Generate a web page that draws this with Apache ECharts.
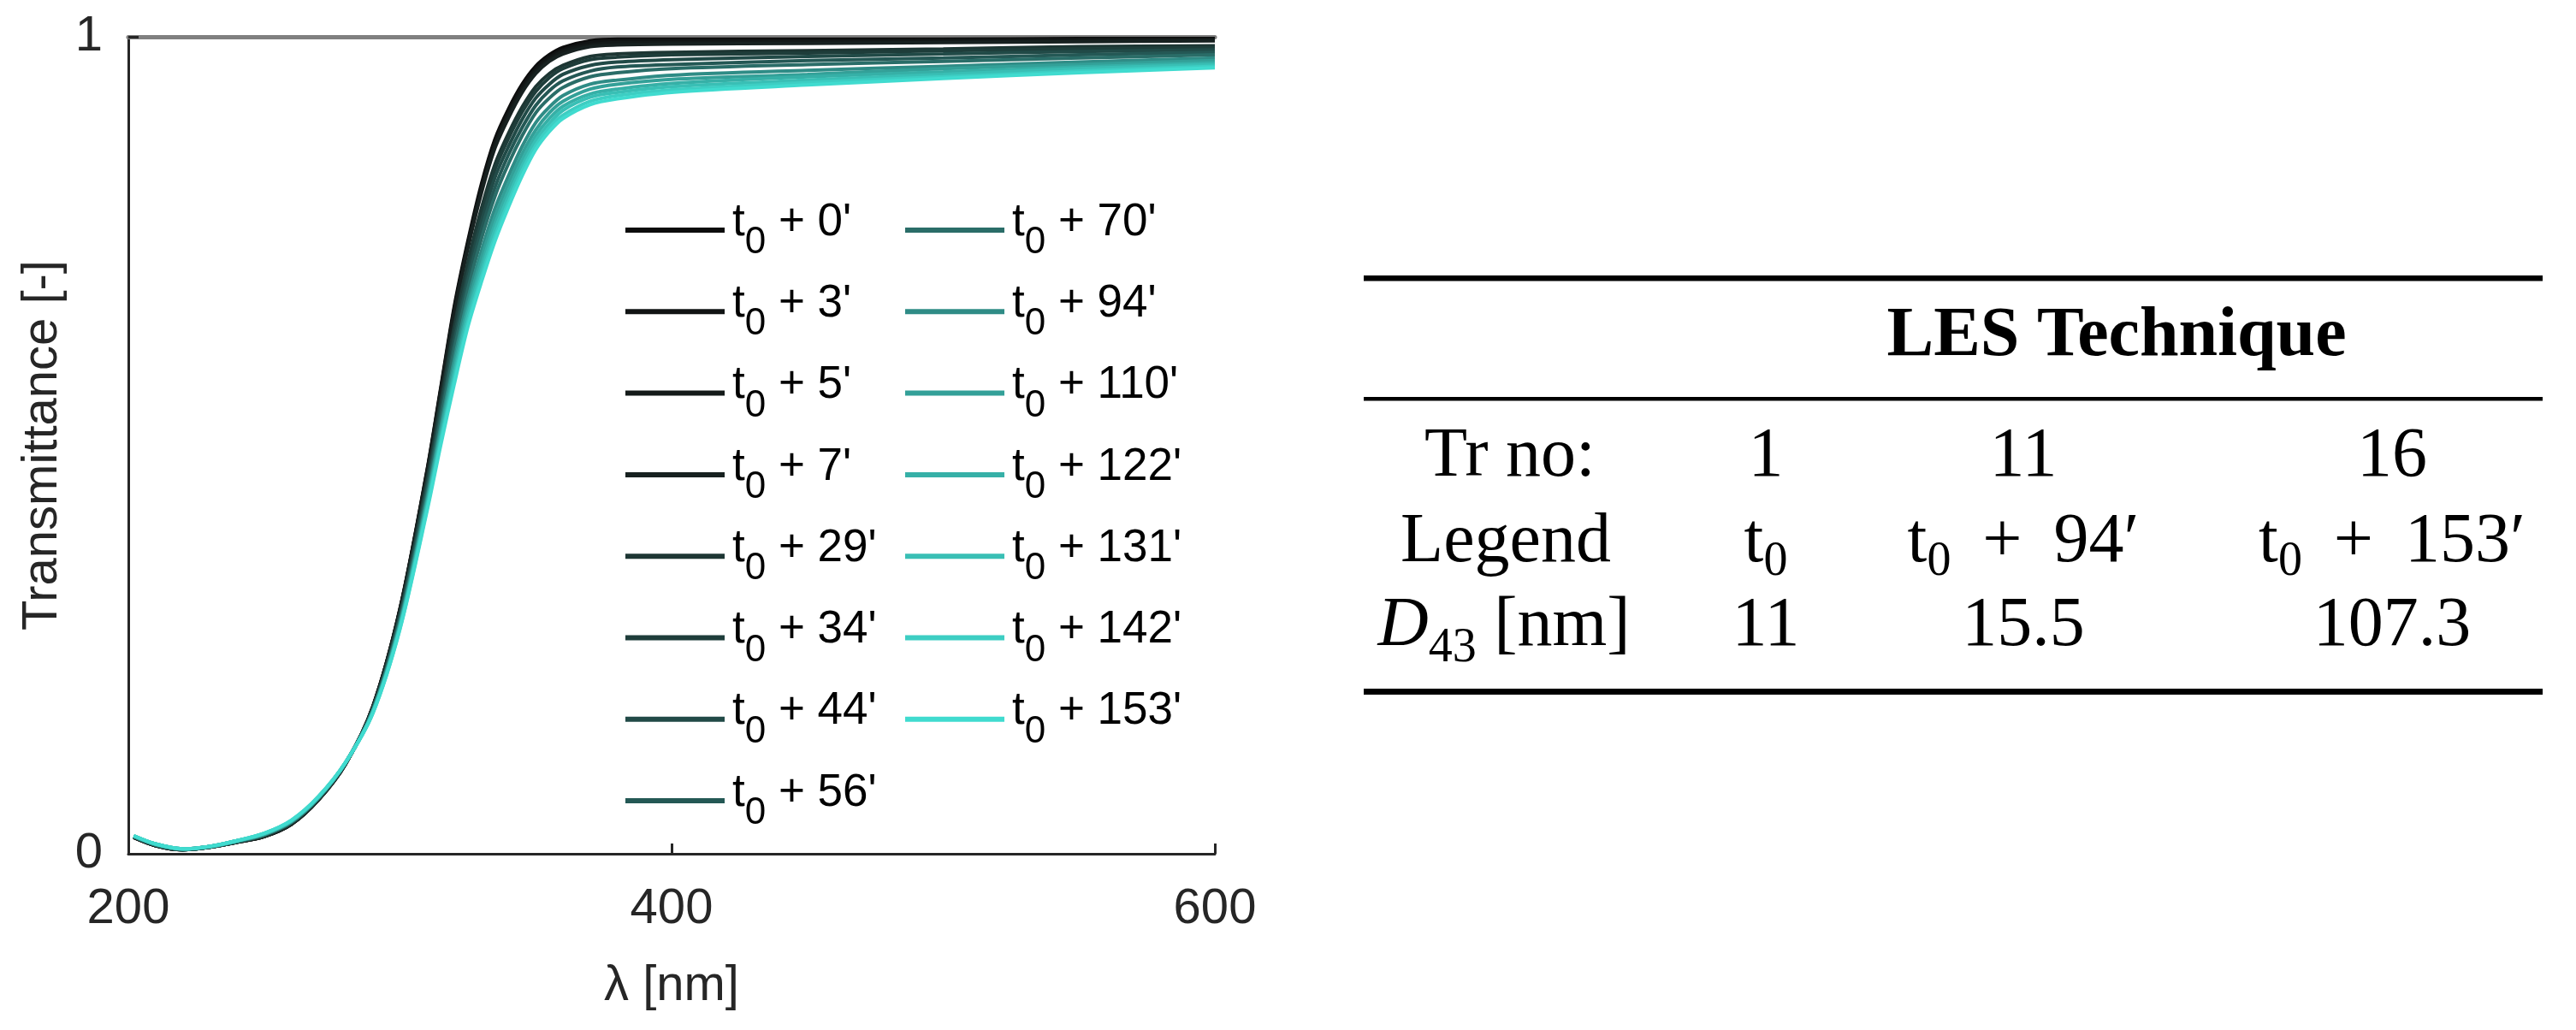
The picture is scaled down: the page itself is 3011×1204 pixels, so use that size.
<!DOCTYPE html>
<html>
<head>
<meta charset="utf-8">
<script src="https://cdn.jsdelivr.net/npm/echarts@6/dist/echarts.min.js"></script>
<style>
html,body{margin:0;padding:0;background:#ffffff;}
#chart{width:3011px;height:1204px;}
</style>
</head>
<body>
<div id="chart"></div>
<script>
// ---------------- data ----------------
const wavelengths = [202,210,220,230,240,250,260,270,280,290,300,310,315,320,325,330,335,340,345,350,355,360,370,380,400,450,500,550,600];

const t0_0   = [.020,.010,.005,.008,.014,.021,.036,.066,.110,.180,.300,.470,.570,.670,.750,.820,.875,.912,.942,.964,.978,.987,.995,.997,.997,.997,.997,.998,.998];
const t0_3   = [.020,.010,.005,.008,.014,.021,.036,.066,.110,.180,.299,.469,.568,.667,.747,.816,.871,.908,.939,.961,.975,.984,.993,.995,.995,.995,.996,.997,.997];
const t0_5   = [.020,.010,.005,.008,.014,.021,.036,.066,.110,.180,.299,.467,.566,.664,.744,.813,.868,.905,.935,.958,.972,.982,.990,.993,.993,.994,.994,.995,.996];
const t0_7   = [.020,.010,.005,.008,.014,.021,.036,.066,.110,.179,.298,.466,.564,.661,.741,.809,.864,.901,.932,.955,.970,.979,.988,.990,.991,.992,.993,.994,.995];
const t0_29  = [.021,.011,.005,.008,.015,.022,.037,.067,.111,.178,.294,.458,.553,.646,.724,.790,.844,.882,.914,.939,.955,.965,.976,.979,.981,.983,.985,.988,.989];
const t0_34  = [.021,.011,.005,.008,.015,.022,.038,.067,.111,.178,.293,.455,.549,.642,.719,.784,.838,.876,.908,.933,.950,.961,.972,.975,.978,.980,.983,.985,.987];
const t0_44  = [.021,.011,.005,.008,.015,.023,.038,.068,.111,.177,.291,.451,.543,.634,.710,.774,.828,.866,.899,.925,.942,.954,.965,.969,.972,.976,.979,.982,.984];
const t0_56  = [.021,.011,.005,.008,.015,.023,.038,.068,.111,.176,.288,.447,.537,.625,.701,.764,.816,.856,.889,.916,.934,.946,.958,.963,.966,.971,.974,.978,.981];
const t0_70  = [.021,.011,.006,.009,.015,.023,.039,.068,.111,.176,.286,.442,.531,.617,.691,.753,.805,.845,.879,.907,.925,.938,.951,.956,.961,.966,.970,.974,.978];
const t0_94  = [.021,.011,.006,.009,.015,.024,.039,.069,.111,.175,.283,.436,.522,.605,.679,.738,.790,.830,.866,.895,.914,.928,.942,.947,.953,.959,.964,.969,.974];
const t0_110 = [.022,.012,.006,.009,.016,.024,.040,.069,.112,.174,.281,.432,.517,.598,.670,.729,.780,.821,.857,.886,.907,.921,.936,.942,.948,.954,.961,.966,.971];
const t0_122 = [.022,.012,.006,.009,.016,.024,.040,.069,.112,.173,.279,.429,.512,.591,.663,.720,.771,.812,.849,.879,.900,.915,.930,.936,.943,.951,.957,.963,.968];
const t0_131 = [.022,.012,.006,.009,.016,.025,.040,.070,.112,.173,.278,.426,.508,.585,.657,.713,.764,.805,.842,.873,.894,.910,.926,.932,.939,.947,.954,.961,.966];
const t0_142 = [.022,.012,.006,.009,.016,.025,.041,.070,.112,.172,.276,.423,.504,.580,.650,.706,.756,.798,.836,.867,.889,.904,.921,.928,.935,.944,.951,.958,.964];
const t0_153 = [.022,.012,.006,.009,.016,.025,.041,.070,.112,.172,.275,.420,.500,.575,.645,.700,.750,.792,.830,.862,.884,.900,.917,.924,.932,.941,.949,.956,.962];

const seriesNames = ["t0 + 0'","t0 + 3'","t0 + 5'","t0 + 7'","t0 + 29'","t0 + 34'","t0 + 44'","t0 + 56'",
                     "t0 + 70'","t0 + 94'","t0 + 110'","t0 + 122'","t0 + 131'","t0 + 142'","t0 + 153'"];
const seriesValues = [t0_0,t0_3,t0_5,t0_7,t0_29,t0_34,t0_44,t0_56,t0_70,t0_94,t0_110,t0_122,t0_131,t0_142,t0_153];
const seriesColors = ['#0c0c0c','#111414','#141a19','#172120','#1d3633','#1e3d3a','#214a47','#245855',
                      '#2a6d68','#2f8c86','#33a098','#36b0a7','#39bfb5','#3dcec3','#40dbcf'];

const xTickValues = [200, 400, 600];
const yTickValues = [0, 1];

// table content
const tableTitle = 'LES Technique';
const tableRowLabels = ['Tr no:', 'Legend', 'D43 [nm]'];
const tableTrNo = ['1', '11', '16'];
const tableLegend = ['t0', 't0 \u2009+\u2009 94′', 't0 \u2009+\u2009 153′'];
const tableD43 = ['11', '15.5', '107.3'];

// ---------------- chart ----------------
const SANS = 'Liberation Sans, Arial, Helvetica, sans-serif';
const SERIF = 'Liberation Serif, Times New Roman, serif';
const axisColor = '#262626';

const chart = echarts.init(document.getElementById('chart'), null, {renderer: 'canvas'});

const series = seriesNames.map((name, k) => ({
  name: name,
  type: 'line',
  xAxisIndex: 0,
  yAxisIndex: 0,
  data: wavelengths.map((w, i) => [w, seriesValues[k][i]]),
  showSymbol: false,
  symbol: 'none',
  smooth: 0.3,
  color: seriesColors[k],
  itemStyle: {color: seriesColors[k], borderWidth: 0},
  lineStyle: {color: seriesColors[k], width: 4},
  emphasis: {disabled: true},
  animation: false
}));

function legendFmt(name) {
  return name.replace(/^t0(.*)$/, '{m|t}{s|0}{m|$1}');
}
const legendRich = {
  m: {fontFamily: SANS, fontSize: 53, lineHeight: 53, color: '#000', padding: [0, 0, 18, 0]},
  s: {fontFamily: SANS, fontSize: 44, lineHeight: 44, color: '#000', padding: [30, 0, 0, 0]}
};
function makeLegend(names, left) {
  return {
    data: names,
    orient: 'vertical',
    left: left,
    top: 227,
    itemWidth: 116,
    itemHeight: 6,
    itemGap: 21.3,
    icon: 'rect',
    selectedMode: false,
    itemStyle: {borderWidth: 0},
    formatter: legendFmt,
    textStyle: {fontFamily: SANS, fontSize: 53, color: '#000', rich: legendRich, padding: [0, 0, 0, 4]}
  };
}

// table graphics
function centerText(x, y, text, rich, extra) {
  return {
    type: 'text', x: x, y: y, silent: true,
    style: Object.assign({
      text: text, align: 'center', verticalAlign: 'middle',
      fontFamily: SERIF, fontSize: 82, fill: '#000', rich: rich
    }, extra || {})
  };
}
const tRich = {
  m: {fontFamily: SERIF, fontSize: 82, lineHeight: 82, color: '#000'},
  i: {fontFamily: SERIF, fontSize: 82, lineHeight: 82, fontStyle: 'italic', color: '#000'},
  s: {fontFamily: SERIF, fontSize: 56, lineHeight: 56, color: '#000', padding: [46, 0, 0, 0]},
  s2: {fontFamily: SERIF, fontSize: 56, lineHeight: 56, color: '#000', padding: [52, 0, 0, 0]}
};
function mathFmt(str) {
  return str.replace(/^t0(.*)$/, (m, rest) => rest ? '{m|t}{s|0}{m|' + rest + '}' : '{m|t}{s|0}');
}
const colX = [2064, 2365, 2796];
const labelX = 1760;
const rowY = {title: 394, tr: 534, legend: 634, d43: 732};

const graphics = [
  {type: 'rect', silent: true, shape: {x: 1594, y: 322, width: 1378, height: 6.5}, style: {fill: '#000'}},
  {type: 'rect', silent: true, shape: {x: 1594, y: 464, width: 1378, height: 4.5}, style: {fill: '#000'}},
  {type: 'rect', silent: true, shape: {x: 1594, y: 805, width: 1378, height: 7}, style: {fill: '#000'}},
  centerText(2474, rowY.title, tableTitle, null, {fontWeight: 'bold'}),
  centerText(labelX + 5, rowY.tr, tableRowLabels[0]),
  centerText(labelX, rowY.legend, tableRowLabels[1]),
  centerText(labelX - 2, rowY.d43, '{i|D}{s2|43}{m| [nm]}', tRich)
];
colX.forEach((x, c) => {
  graphics.push(centerText(x, rowY.tr, tableTrNo[c]));
  graphics.push(centerText(x, rowY.legend, mathFmt(tableLegend[c]), tRich));
  graphics.push(centerText(x, rowY.d43, tableD43[c]));
});

const option = {
  backgroundColor: '#ffffff',
  animation: false,
  grid: {left: 150, top: 43, width: 1270, height: 955, containLabel: false},
  xAxis: [{
    type: 'value', min: xTickValues[0], max: xTickValues[xTickValues.length - 1], interval: 200,
    position: 'bottom',
    axisLine: {show: true, onZero: false, lineStyle: {color: axisColor, width: 3}},
    axisTick: {show: true, inside: true, length: 12, lineStyle: {color: axisColor, width: 3}},
    axisLabel: {show: true, fontFamily: SANS, fontSize: 58, color: axisColor, margin: 36},
    splitLine: {show: false},
    name: 'λ [nm]', nameLocation: 'middle', nameGap: 126,
    nameTextStyle: {fontFamily: SANS, fontSize: 58, color: axisColor}
  }, {
    type: 'value', min: 200, max: 600, position: 'top',
    axisLine: {show: true, onZero: false, lineStyle: {color: '#808080', width: 5}},
    axisTick: {show: false}, axisLabel: {show: false}, splitLine: {show: false}
  }],
  yAxis: [{
    type: 'value', min: yTickValues[0], max: yTickValues[1], interval: 1,
    axisLine: {show: true, onZero: false, lineStyle: {color: axisColor, width: 3}},
    axisTick: {show: true, inside: true, length: 12, lineStyle: {color: axisColor, width: 3}},
    axisLabel: {show: true, fontFamily: SANS, fontSize: 58, color: axisColor, margin: 30},
    splitLine: {show: false},
    name: 'Transmittance [-]', nameLocation: 'middle', nameGap: 71,
    nameTextStyle: {fontFamily: SANS, fontSize: 58, color: axisColor}
  }],
  legend: [makeLegend(seriesNames.slice(0, 8), 726), makeLegend(seriesNames.slice(8), 1053)],
  series: series,
  graphic: graphics
};
chart.setOption(option);
</script>
</body>
</html>
